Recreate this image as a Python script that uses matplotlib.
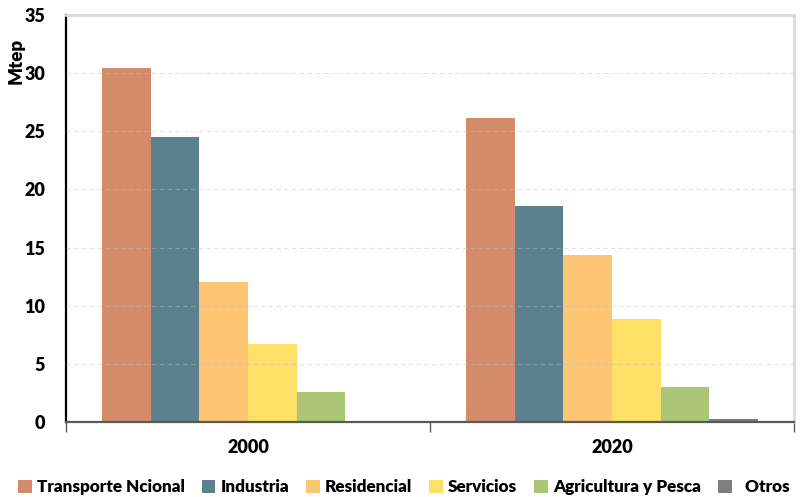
import numpy as np
import matplotlib
matplotlib.use("Agg")
import matplotlib.pyplot as plt
from matplotlib.patches import Patch

plt.rcParams.update({"font.family": ["Lato", "DejaVu Sans"], "font.weight": "heavy"})

years = ["2000", "2020"]
sectors = ["Transporte Ncional", "Industria", "Residencial", "Servicios",
           "Agricultura y Pesca", "Otros"]
transporte = [30.4, 26.1]
industria = [24.5, 18.6]
residencial = [12.0, 14.4]
servicios = [6.7, 8.9]
agricultura = [2.6, 3.0]
otros = [0.0, 0.3]
series = [transporte, industria, residencial, servicios, agricultura, otros]
colors = ["#D48B69", "#5B818F", "#FDC574", "#FFE066", "#AAC676", "#7F7F7F"]

fig = plt.figure(figsize=(8.07, 4.97), dpi=100)
ax = fig.add_axes([66/807, 1-422/497, (794-66)/807, (422-15)/497])

x = np.arange(len(years))
w = 0.8 / len(series)
for i, (vals, c) in enumerate(zip(series, colors)):
    ax.bar(x - 0.4 + w*(i + 0.5), vals, width=w, color=c, zorder=2)

ax.set_xlim(-0.5, 1.5)
ax.set_ylim(0, 35)
ax.set_yticks(range(0, 36, 5))
ax.tick_params(axis="y", length=0, labelsize=13, pad=15)
ax.set_xticks(x)
ax.set_xticklabels(years)
ax.tick_params(axis="x", which="major", length=0, labelsize=13, pad=12)
ax.set_xticks([-0.5, 0.5, 1.5], minor=True)
ax.tick_params(axis="x", which="minor", length=7, width=1, color="#595959", direction="out")

for y in range(5, 35, 5):
    ax.axhline(y, color="#bfbfbf", lw=0.8, ls=(0, (4, 3)), alpha=0.45, zorder=3)

ax.spines["left"].set_color("black")
ax.spines["left"].set_linewidth(1.6)
ax.spines["bottom"].set_color("#595959")
ax.spines["bottom"].set_linewidth(1.6)
for s in ("top", "right"):
    ax.spines[s].set_color("#d9d9d9")
    ax.spines[s].set_linewidth(2)

fig.text(16/807, 1-61/497, "Mtep", rotation=90, ha="center", va="center", fontsize=13.5)

handles = [Patch(facecolor=c, edgecolor="none") for c in colors]
labels = sectors[:-1] + ["  Otros"]
fig.legend(handles, labels, loc="center left", bbox_to_anchor=(18/807, 1-487/497),
           ncol=6, frameon=False, fontsize=12.3, handlelength=0.8, handleheight=0.8,
           handletextpad=0.3, columnspacing=1.0, borderpad=0, borderaxespad=0)

fig.savefig("out.png", dpi=100)
